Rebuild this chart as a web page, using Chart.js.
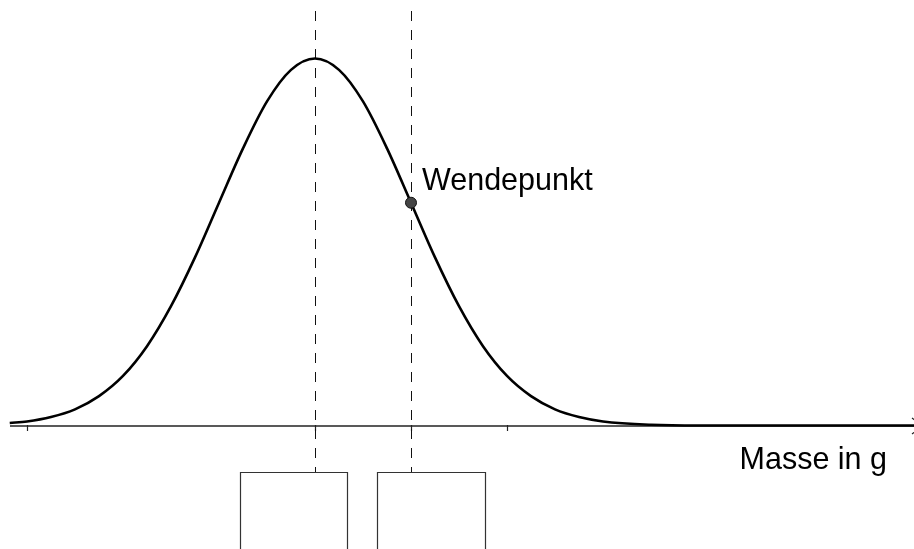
<!DOCTYPE html>
<html>
<head>
<meta charset="utf-8">
<script src="https://cdn.jsdelivr.net/npm/chart.js@4.4.0/dist/chart.umd.min.js"></script>
<style>
  html, body { margin: 0; padding: 0; background: #fff; }
  #wrap { width: 914px; height: 549px; }
</style>
</head>
<body>
<div id="wrap"><canvas id="chart" width="914" height="549"></canvas></div>
<script>
// curve (x in sigma steps from the peak, height relative to peak)
const curveX = [-3.18, -3, -2.75, -2.5, -2.25, -2, -1.75, -1.5, -1.25, -1, -0.75, -0.5, -0.25, 0,
                0.25, 0.5, 0.75, 1, 1.25, 1.5, 1.75, 2, 2.25, 2.5, 2.75, 3, 3.5, 4, 5, 6.24];
const curveY = [0.007, 0.011, 0.023, 0.044, 0.080, 0.135, 0.216, 0.325, 0.458, 0.607, 0.755, 0.883, 0.969, 1,
                0.969, 0.883, 0.755, 0.607, 0.458, 0.325, 0.216, 0.135, 0.080, 0.044, 0.023, 0.011, 0.002, 0, 0, 0];
const wendeX = [1];
const wendeY = [0.607];
const tickX = [-3, 0, 1, 2];
const guideX = [0, 1];
const axisTitle = 'Masse in g';
const pointLabel = 'Wendepunkt';

const FONT = '30.5px "Liberation Sans", Arial, sans-serif';

const overlay = {
    id: 'overlay',
    beforeDatasetsDraw(chart) {
        const ctx = chart.ctx;
        const xs = chart.scales.x, ys = chart.scales.y;
        const y0 = ys.getPixelForValue(0) + 0.5;
        ctx.save();
        // x axis
        ctx.strokeStyle = '#222';
        ctx.lineWidth = 1.5;
        ctx.beginPath();
        ctx.moveTo(10, y0);
        ctx.lineTo(914, y0);
        ctx.stroke();
        // arrow tips just off the edge
        ctx.lineWidth = 1.2;
        ctx.beginPath();
        ctx.moveTo(912, y0 - 8); ctx.lineTo(922, y0);
        ctx.moveTo(912, y0 + 8); ctx.lineTo(922, y0);
        ctx.stroke();
        // ticks
        ctx.lineWidth = 1.2;
        tickX.forEach(v => {
            const px = Math.round(xs.getPixelForValue(v)) + 0.5;
            ctx.beginPath();
            ctx.moveTo(px, y0 - 1);
            ctx.lineTo(px, y0 + 5);
            ctx.stroke();
        });
        // dashed guides
        ctx.strokeStyle = '#111';
        ctx.lineWidth = 1;
        ctx.setLineDash([10, 9]);
        guideX.forEach(v => {
            const px = Math.round(xs.getPixelForValue(v)) + 0.5;
            ctx.beginPath();
            ctx.moveTo(px, 11);
            ctx.lineTo(px, 472);
            ctx.stroke();
        });
        ctx.setLineDash([]);
        // answer boxes
        ctx.strokeStyle = '#333';
        ctx.lineWidth = 1.2;
        ctx.beginPath();
        ctx.moveTo(240.5, 560); ctx.lineTo(240.5, 472.5); ctx.lineTo(347.5, 472.5); ctx.lineTo(347.5, 560);
        ctx.moveTo(377.5, 560); ctx.lineTo(377.5, 472.5); ctx.lineTo(485.5, 472.5); ctx.lineTo(485.5, 560);
        ctx.stroke();
        ctx.restore();
    },
    afterDatasetsDraw(chart) {
        const ctx = chart.ctx;
        const xs = chart.scales.x;
        ctx.save();
        ctx.fillStyle = '#000';
        ctx.font = FONT;
        ctx.textBaseline = 'alphabetic';
        ctx.textAlign = 'left';
        ctx.fillText(pointLabel, xs.getPixelForValue(wendeX[0]) + 11, 190);
        ctx.textAlign = 'right';
        ctx.fillText(axisTitle, 887, 469);
        ctx.restore();
    }
};

new Chart(document.getElementById('chart'), {
    type: 'scatter',
    data: {
        datasets: [
            {
                data: wendeX.map((x, i) => ({ x: x, y: wendeY[i] })),
                showLine: false,
                pointRadius: 5.5,
                pointBackgroundColor: '#444',
                pointBorderColor: '#111',
                pointBorderWidth: 1,
                order: 0
            },
            {
                data: curveX.map((x, i) => ({ x: x, y: curveY[i] })),
                showLine: true,
                borderColor: '#000',
                borderWidth: 2.6,
                pointRadius: 0,
                cubicInterpolationMode: 'monotone',
                fill: false,
                order: 1
            }
        ]
    },
    options: {
        responsive: false,
        devicePixelRatio: 1,
        animation: false,
        layout: { padding: 0, autoPadding: false },
        plugins: { legend: { display: false }, tooltip: { enabled: false } },
        scales: {
            x: { type: 'linear', display: false, min: -3.28125, max: 6.2396 },
            y: { type: 'linear', display: false, min: -0.3365, max: 1.1594 }
        }
    },
    plugins: [overlay]
});
</script>
</body>
</html>
